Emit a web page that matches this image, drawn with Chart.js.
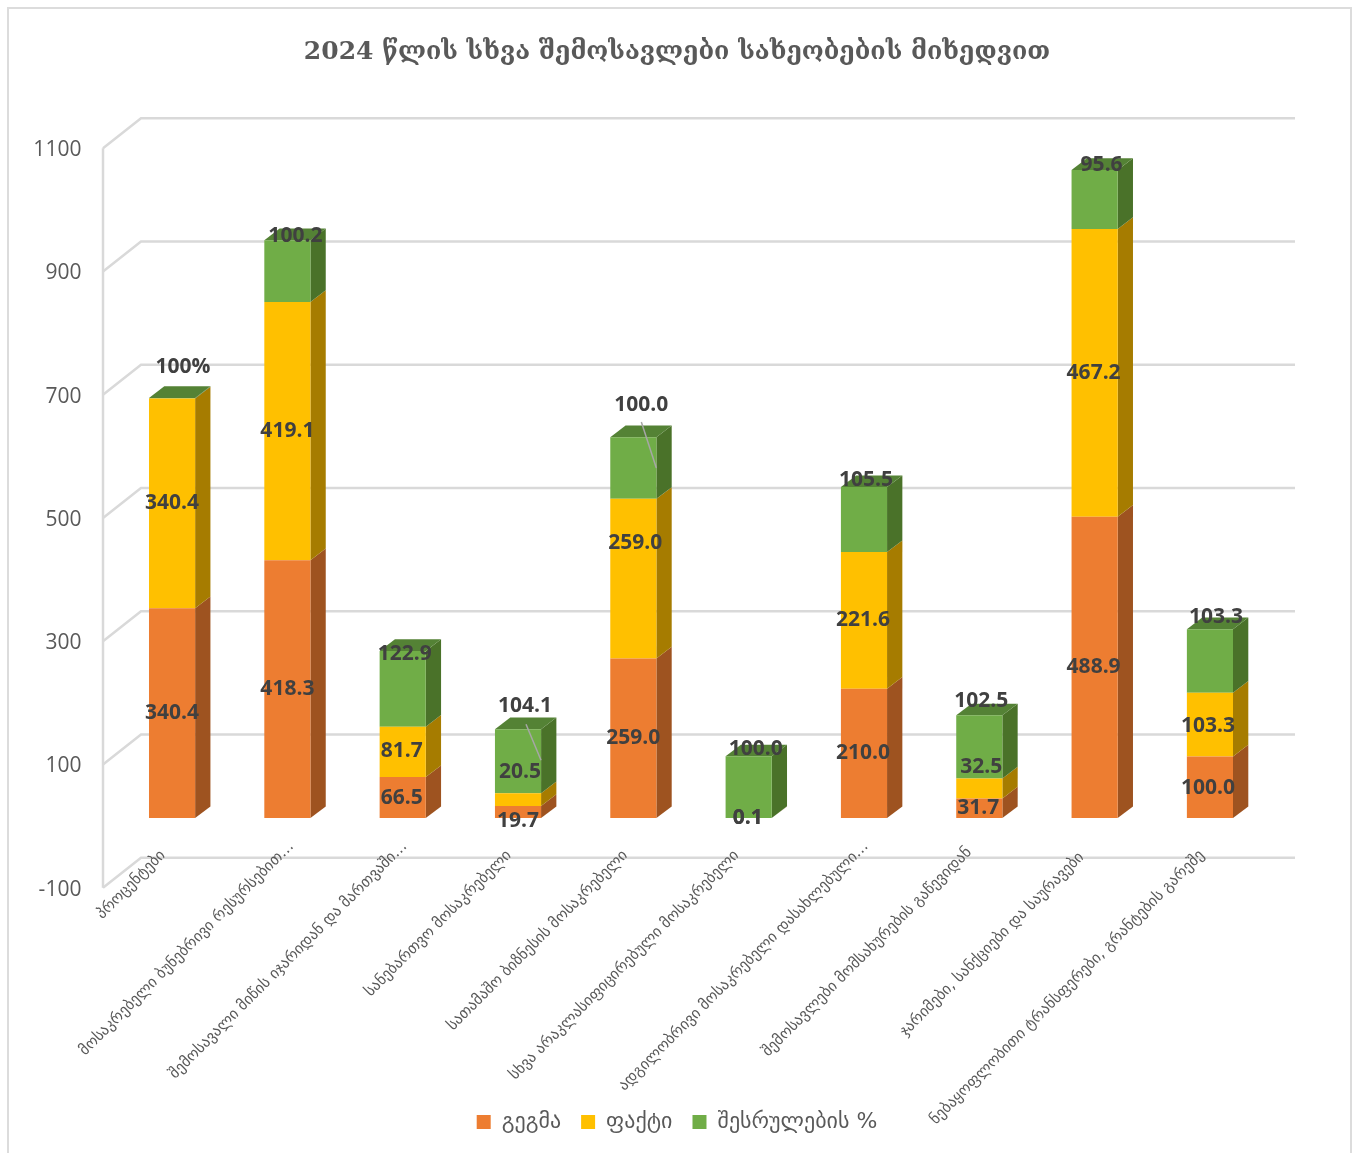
<!DOCTYPE html>
<html lang="ka">
<head>
    <meta charset="UTF-8">
    <title>2024 წლის სხვა შემოსავლები</title>
    <style>
        html, body { margin: 0; padding: 0; background: #fff; overflow: hidden; }
        #wrap { position: absolute; left: 0; top: 0; width: 1354px; height: 1153px; }
        #frame { position: absolute; left: 7px; top: 7px; width: 1341px; height: 1160px; border: 2px solid #dcdcdc; }
    </style>
</head>
<body>
<div id="frame"></div>
<div id="wrap"><canvas id="chart" width="1354" height="1153"></canvas></div>

<script src="https://cdn.jsdelivr.net/npm/chart.js"></script>
<script>
    const chartTitle = '2024 წლის სხვა შემოსავლები სახეობების მიხედვით';
    const categories = [
        'პროცენტები',
        'მოსაკრებელი ბუნებრივი რესურსებით…',
        'შემოსავალი მიწის იჯარიდან და მართვაში…',
        'სანებართვო მოსაკრებელი',
        'სათამაშო ბიზნესის მოსაკრებელი',
        'სხვა არაკლასიფიცირებული მოსაკრებელი',
        'ადგილობრივი მოსაკრებელი დასახლებული…',
        'შემოსავლები მომსახურების გაწევიდან',
        'ჯარიმები, სანქციები და საურავები',
        'ნებაყოფლობითი ტრანსფერები, გრანტების გარეშე'
    ];
    const seriesNames = ['გეგმა', 'ფაქტი', 'შესრულების %'];
    const plan = [340.4, 418.3, 66.5, 19.7, 259.0, 0.1, 210.0, 31.7, 488.9, 100.0];
    const actual = [340.4, 419.1, 81.7, 20.5, 259.0, 0.1, 221.6, 32.5, 467.2, 103.3];
    // first one is stored as a fraction in the source sheet, hence the flat bar and "100%"
    const percent = [1, 100.2, 122.9, 104.1, 100.0, 100.0, 105.5, 102.5, 95.6, 103.3];
    const yTicks = [-100, 100, 300, 500, 700, 900, 1100];

    // hand placed labels, offset from middle of the segment [dx, dy]
    const planNudge = [[0,0],[0,0],[-1,0],[0,9],[0,0],[-1,0],[-1,0],[-1,0],[-1,0],[-2,1]];
    const actualNudge = [[0,0],[0,0],[-1,-1],[2,-28],[2,-36],[-1,0],[-1,0],[2,-22],[-1,0],[-2,1]];
    const percentNudge = [[11,-31],[8,-35],[2,-35],[7,-55],[8,-63],[7,-38],[2,-40],[2,-46],[7,-34],[6,-44]];
    const nudges = [planNudge, actualNudge, percentNudge];

    // leader lines on the two moved labels: category index, dy start, dx/dy end from segment middle
    const leaders = [
        { index: 3, from: [8, -37], to: [23, -1] },
        { index: 4, from: [8, -46], to: [23, 0] }
    ];

    // where the end of each slanted axis label sits: x from tick, y absolute
    const labelEndDx = [-9, 4, 2, -9, -8, -12, 2, -10, -13, -8];
    const labelEndY = [853, 844, 844, 853, 853, 853, 844, 850, 855, 853];

    const faces = {
        front: ['#ED7D31', '#FFC000', '#70AD47'],
        side: ['#9E5320', '#A67C00', '#4A7229'],
        top: ['#B85F24', '#C79600', '#548235']
    };
    const depthX = 15.3, depthY = 11.7;

    const wallPlugin = {
        id: 'wall',
        beforeDatasetsDraw(chart) {
            const ctx = chart.ctx, y = chart.scales.y;
            ctx.save();
            ctx.strokeStyle = '#d9d9d9';
            ctx.lineWidth = 2.5;
            yTicks.forEach(v => {
                const py = y.getPixelForValue(v);
                ctx.beginPath();
                ctx.moveTo(103, py + 8);
                ctx.lineTo(141, py - 22);
                ctx.lineTo(1295, py - 22);
                ctx.stroke();
            });
            ctx.beginPath();
            ctx.moveTo(103, y.getPixelForValue(1100) + 8);
            ctx.lineTo(103, y.getPixelForValue(-100) + 8);
            ctx.stroke();

            // slanted category labels, axis clips its own so they are done here
            const x = chart.scales.x;
            ctx.fillStyle = '#595959';
            ctx.font = '15.3px "DejaVu Sans"';
            ctx.textAlign = 'right';
            ctx.textBaseline = 'middle';
            x.getTicks().forEach((t, i) => {
                ctx.save();
                ctx.translate(x.getPixelForTick(i) + labelEndDx[i], labelEndY[i]);
                ctx.rotate(-Math.PI / 4);
                ctx.fillText(x.getLabelForValue(t.value), 0, 0);
                ctx.restore();
            });

            // side and top faces of the columns
            chart.data.datasets.forEach((ds, d) => {
                chart.getDatasetMeta(d).data.forEach(bar => {
                    const p = bar.getProps(['x', 'y', 'base', 'width']);
                    const l = p.x - p.width / 2, r = p.x + p.width / 2;
                    ctx.fillStyle = faces.side[d];
                    ctx.beginPath();
                    ctx.moveTo(r, p.y);
                    ctx.lineTo(r + depthX, p.y - depthY);
                    ctx.lineTo(r + depthX, p.base - depthY);
                    ctx.lineTo(r, p.base);
                    ctx.closePath();
                    ctx.fill();
                    if (d === 2) {
                        ctx.fillStyle = faces.top[d];
                        ctx.beginPath();
                        ctx.moveTo(l, p.y);
                        ctx.lineTo(l + depthX, p.y - depthY);
                        ctx.lineTo(r + depthX, p.y - depthY);
                        ctx.lineTo(r, p.y);
                        ctx.closePath();
                        ctx.fill();
                    }
                });
            });
            ctx.restore();
        },
        afterDatasetsDraw(chart) {
            const ctx = chart.ctx;
            ctx.save();
            const mid = (d, i) => {
                const p = chart.getDatasetMeta(d).data[i].getProps(['x', 'y', 'base']);
                return [p.x, (p.y + p.base) / 2];
            };
            ctx.strokeStyle = '#a6a6a6';
            ctx.lineWidth = 1.5;
            leaders.forEach(l => {
                const m = mid(2, l.index);
                ctx.beginPath();
                ctx.moveTo(m[0] + l.from[0], m[1] + l.from[1]);
                ctx.lineTo(m[0] + l.to[0], m[1] + l.to[1]);
                ctx.stroke();
            });
            ctx.fillStyle = '#404040';
            ctx.font = 'bold 21px "Open Sans"';
            ctx.textAlign = 'center';
            ctx.textBaseline = 'middle';
            chart.data.datasets.forEach((ds, d) => {
                ds.data.forEach((v, i) => {
                    const m = mid(d, i), n = nudges[d][i];
                    const text = (d === 2 && i === 0) ? '100%' : v.toFixed(1);
                    ctx.fillText(text, m[0] + n[0], m[1] + n[1]);
                });
            });
            ctx.restore();
        }
    };

    new Chart(document.getElementById('chart'), {
        type: 'bar',
        data: {
            labels: categories,
            datasets: [
                { label: seriesNames[0], data: plan, backgroundColor: faces.front[0] },
                { label: seriesNames[1], data: actual, backgroundColor: faces.front[1] },
                { label: seriesNames[2], data: percent, backgroundColor: faces.front[2] }
            ]
        },
        options: {
            responsive: false,
            animation: false,
            categoryPercentage: 0.4,
            barPercentage: 1,
            layout: { padding: { left: 0, right: 0, top: 0, bottom: 10 } },
            scales: {
                x: {
                    stacked: true,
                    grid: { display: false, drawTicks: false },
                    border: { display: false },
                    afterFit: s => { s.height = 211.3; },
                    ticks: { display: false, autoSkip: false }
                },
                y: {
                    stacked: true,
                    min: -100,
                    max: 1100,
                    afterBuildTicks: s => { s.ticks = yTicks.map(v => ({ value: v })); },
                    afterFit: s => { s.width = 114.4; },
                    grid: { display: false, drawTicks: false },
                    border: { display: false },
                    ticks: {
                        padding: 33,
                        labelOffset: 10,
                        color: '#595959',
                        callback: v => String(v),
                        font: { family: '"Open Sans"', size: 21 }
                    }
                },
                // empty axis, only keeps room on the right so title and legend stay centred on the page
                spacer: {
                    position: 'right',
                    afterFit: s => { s.width = 86.4; },
                    grid: { display: false, drawTicks: false },
                    border: { display: false },
                    ticks: { display: false }
                }
            },
            plugins: {
                title: {
                    display: true,
                    text: chartTitle,
                    color: '#595959',
                    padding: { top: 37, bottom: 73.2 },
                    font: { family: '"DejaVu Serif"', size: 25, weight: 'bold' }
                },
                legend: {
                    position: 'bottom',
                    labels: {
                        boxWidth: 14,
                        boxHeight: 14,
                        padding: 20,
                        color: '#595959',
                        font: { family: '"DejaVu Sans"', size: 22 }
                    }
                },
                tooltip: { enabled: false }
            }
        },
        plugins: [wallPlugin]
    });
</script>
</body>
</html>
